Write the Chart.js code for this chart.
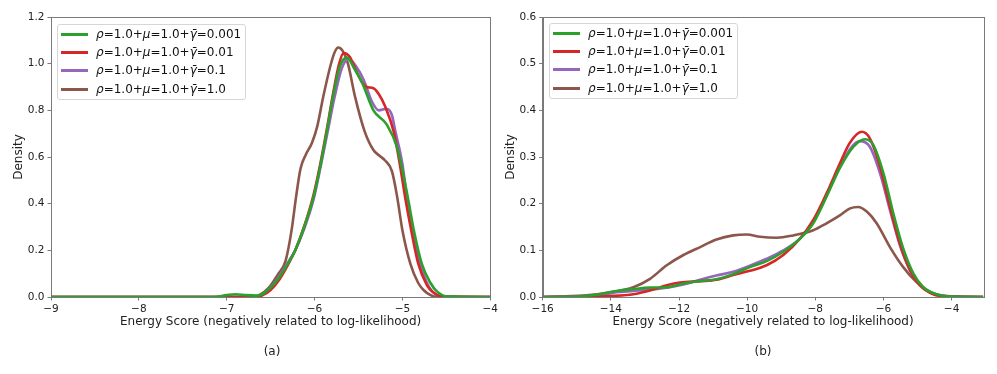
<!DOCTYPE html>
<html>
<head>
<meta charset="utf-8">
<script src="https://cdn.jsdelivr.net/npm/chart.js@4"></script>
<style>
    body { margin: 0; background: #fff; font-family: "DejaVu Sans", sans-serif; }
    #wrap { position: relative; width: 997px; height: 374px; }
    .panel { position: absolute; top: 0; height: 374px; }
    .caption { position: absolute; top: 344px; font-size: 12px; color: #222; transform: translateX(-50%); }
    .legend { position: absolute; width: 187px; height: 74px; border: 1px solid #d6d6d6; border-radius: 3px; background: rgba(255,255,255,0.85); }
    .row { position: absolute; left: 0; height: 18px; width: 100%; }
    .row .ln { position: absolute; left: 3px; width: 27px; height: 3px; top: 8px; }
    .row .tx { position: absolute; left: 38px; top: 0; font-size: 12px; line-height: 18px; color: #111; white-space: nowrap; }
</style>
</head>
<body>
<div id="wrap">
    <div class="panel" style="left:0;width:500px"><canvas id="chartA" width="500" height="374"></canvas></div>
    <div class="panel" style="left:500px;width:497px"><canvas id="chartB" width="497" height="374"></canvas></div>
    <div class="legend" id="legendA" style="left:57px;top:24px"></div>
    <div class="legend" id="legendB" style="left:549px;top:23px"></div>
    <div class="caption" style="left:272px">(a)</div>
    <div class="caption" style="left:763px">(b)</div>
</div>
<script>
"use strict"

// 범례 / 시리즈 이름
var seriesNames = ['0.001', '0.01', '0.1', '1.0'];
var seriesColors = ['#2ca02c', '#d62728', '#9467bd', '#8c564b'];

// (a) 축 눈금
var ticksAX = [-9, -8, -7, -6, -5, -4];
var ticksAY = [0, 0.2, 0.4, 0.6, 0.8, 1.0, 1.2];
// (b) 축 눈금
var ticksBX = [-16, -14, -12, -10, -8, -6, -4];
var ticksBY = [0, 0.1, 0.2, 0.3, 0.4, 0.5, 0.6];

// (a) gamma=0.001
var aX1 = [-9, -7.15, -7.0, -6.9, -6.78, -6.66, -6.58, -6.5, -6.4, -6.3, -6.22, -6.12, -6.01, -5.93, -5.86, -5.79, -5.71, -5.63, -5.55, -5.46, -5.33, -5.18, -5.06, -4.94, -4.87, -4.78, -4.68, -4.61, -4.5, -4];
var aY1 = [0, 0, 0.008, 0.012, 0.008, 0.006, 0.015, 0.04, 0.085, 0.145, 0.2, 0.3, 0.43, 0.57, 0.71, 0.86, 0.99, 1.026, 0.98, 0.92, 0.8, 0.74, 0.64, 0.43, 0.286, 0.143, 0.06, 0.025, 0.003, 0];
// (a) gamma=0.01
var aX2 = [-9, -6.7, -6.6, -6.5, -6.4, -6.3, -6.22, -6.12, -6.01, -5.93, -5.86, -5.79, -5.72, -5.67, -5.6, -5.54, -5.46, -5.41, -5.33, -5.27, -5.2, -5.1, -5.03, -4.97, -4.9, -4.82, -4.72, -4.65, -4.56, -4];
var aY2 = [0, 0, 0.006, 0.03, 0.075, 0.14, 0.2, 0.3, 0.44, 0.58, 0.72, 0.87, 1.0, 1.046, 1.03, 0.98, 0.92, 0.9, 0.895, 0.87, 0.82, 0.71, 0.57, 0.43, 0.286, 0.143, 0.05, 0.02, 0.003, 0];
// (a) gamma=0.1
var aX3 = [-9, -6.68, -6.6, -6.5, -6.4, -6.3, -6.22, -6.12, -6.01, -5.93, -5.85, -5.77, -5.69, -5.61, -5.53, -5.44, -5.35, -5.27, -5.18, -5.12, -5.08, -5.0, -4.95, -4.89, -4.8, -4.7, -4.63, -4.53, -4];
var aY3 = [0, 0, 0.008, 0.04, 0.09, 0.15, 0.2, 0.29, 0.42, 0.56, 0.71, 0.86, 0.98, 1.02, 0.99, 0.93, 0.84, 0.8, 0.807, 0.78, 0.71, 0.57, 0.43, 0.286, 0.143, 0.045, 0.014, 0.002, 0];
// (a) gamma=1.0
var aX4 = [-9, -6.72, -6.62, -6.52, -6.42, -6.33, -6.26, -6.21, -6.16, -6.1, -6.03, -5.97, -5.9, -5.82, -5.77, -5.73, -5.68, -5.62, -5.54, -5.43, -5.33, -5.26, -5.2, -5.12, -5.06, -5.0, -4.91, -4.82, -4.76, -4.68, -4.6, -4];
var aY4 = [0, 0, 0.01, 0.04, 0.095, 0.155, 0.29, 0.43, 0.55, 0.61, 0.66, 0.73, 0.86, 0.99, 1.05, 1.069, 1.055, 1.0, 0.86, 0.71, 0.63, 0.605, 0.586, 0.54, 0.43, 0.286, 0.143, 0.06, 0.03, 0.008, 0, 0];

// (b) gamma=0.001
var bX1 = [-16, -15, -14.32, -13.83, -13.34, -12.85, -12.36, -11.87, -11.38, -10.9, -10.41, -9.92, -9.43, -8.94, -8.45, -8.06, -7.67, -7.28, -6.88, -6.54, -6.3, -6.0, -5.71, -5.42, -5.12, -4.83, -4.44, -4.0, -3.07];
var bY1 = [0, 0.001, 0.006, 0.013, 0.017, 0.02, 0.021, 0.029, 0.034, 0.038, 0.049, 0.064, 0.077, 0.097, 0.125, 0.158, 0.215, 0.276, 0.322, 0.338, 0.326, 0.265, 0.179, 0.104, 0.05, 0.021, 0.006, 0.001, 0];
// (b) gamma=0.01
var bX2 = [-16, -15, -14.02, -13.34, -12.85, -12.36, -11.97, -11.38, -10.9, -10.41, -9.92, -9.43, -8.94, -8.45, -8.06, -7.67, -7.28, -6.98, -6.64, -6.4, -6.1, -5.81, -5.52, -5.22, -4.93, -4.54, -4.05, -3.07];
var bY2 = [0, 0, 0.002, 0.006, 0.014, 0.025, 0.031, 0.034, 0.037, 0.047, 0.056, 0.068, 0.09, 0.125, 0.165, 0.222, 0.286, 0.331, 0.354, 0.34, 0.279, 0.193, 0.115, 0.057, 0.025, 0.006, 0.001, 0];
// (b) gamma=0.1
var bX3 = [-16, -15, -14.32, -13.83, -13.34, -12.85, -12.36, -11.87, -11.38, -10.9, -10.41, -9.92, -9.43, -8.94, -8.45, -8.06, -7.67, -7.28, -6.93, -6.69, -6.4, -6.1, -5.81, -5.52, -5.22, -4.93, -4.54, -4.0, -3.07];
var bY3 = [0, 0.001, 0.004, 0.01, 0.013, 0.016, 0.02, 0.027, 0.037, 0.046, 0.054, 0.067, 0.082, 0.1, 0.125, 0.161, 0.218, 0.279, 0.322, 0.334, 0.322, 0.265, 0.186, 0.111, 0.057, 0.027, 0.007, 0.001, 0];
// (b) gamma=1.0
var bX4 = [-16, -14.8, -14.02, -13.34, -12.85, -12.36, -11.87, -11.38, -10.9, -10.41, -10.01, -9.62, -9.13, -8.65, -8.06, -7.67, -7.28, -6.98, -6.74, -6.49, -6.2, -5.81, -5.42, -5.03, -4.64, -4.15, -3.07];
var bY4 = [0, 0.003, 0.01, 0.021, 0.039, 0.068, 0.09, 0.107, 0.123, 0.132, 0.134, 0.129, 0.127, 0.132, 0.143, 0.158, 0.175, 0.19, 0.193, 0.183, 0.158, 0.107, 0.064, 0.032, 0.011, 0.002, 0];

var spineColor = '#7a7a7a';
var fontFamily = "'DejaVu Sans', sans-serif";

function toPoints(xs, ys) {
    var pts = [];
    for (var i = 0; i < xs.length; i++) {
        pts.push({ x: xs[i], y: ys[i] });
    }
    return pts;
}

function minusLabel(v) {
    var s = String(v);
    return s.replace('-', '\u2212');
}

// 네 변 테두리 (matplotlib spine 처럼)
var boxPlugin = {
    id: 'box',
    beforeDatasetsDraw: function (chart) {
        var a = chart.chartArea;
        var ctx = chart.ctx;
        ctx.save();
        ctx.strokeStyle = spineColor;
        ctx.lineWidth = 1;
        ctx.strokeRect(Math.round(a.left) + 0.5, Math.round(a.top) + 0.5, Math.round(a.right - a.left), Math.round(a.bottom - a.top));
        ctx.restore();
    }
};

function makeChart(canvasId, xs, ys, opt) {
    var datasets = [];
    for (var k = 0; k < xs.length; k++) {
        datasets.push({
            label: seriesNames[k],
            data: toPoints(xs[k], ys[k]),
            borderColor: seriesColors[k],
            backgroundColor: seriesColors[k],
            borderWidth: 2.6,
            pointRadius: 0,
            cubicInterpolationMode: 'monotone',
            fill: false
        });
    }

    var config = {
        type: 'line',
        data: { datasets: datasets },
        plugins: [boxPlugin],
        options: {
            responsive: false,
            animation: false,
            events: [],
            layout: {
                autoPadding: false,
                padding: { left: 0, right: opt.padRight, top: 17, bottom: 39 }
            },
            plugins: {
                legend: { display: false },
                tooltip: { enabled: false }
            },
            scales: {
                x: {
                    type: 'linear',
                    min: opt.xMin,
                    max: opt.xMax,
                    afterBuildTicks: function (scale) {
                        scale.ticks = opt.xTicks.map(function (v) { return { value: v }; });
                    },
                    afterFit: function (scale) { scale.height = 38; },
                    ticks: {
                        color: '#222',
                        padding: 2,
                        maxRotation: 0,
                        font: { family: fontFamily, size: 10.5 },
                        callback: function (v) { return minusLabel(v); }
                    },
                    grid: { display: true, drawOnChartArea: false, drawTicks: true, tickLength: 3.5, color: spineColor },
                    border: { display: true, color: spineColor },
                    title: {
                        display: true,
                        text: 'Energy Score (negatively related to log-likelihood)',
                        color: '#222',
                        font: { family: fontFamily, size: 12 },
                        padding: { top: 0, bottom: 5.5 }
                    }
                },
                y: {
                    type: 'linear',
                    min: 0,
                    max: opt.yMax,
                    afterBuildTicks: function (scale) {
                        scale.ticks = opt.yTicks.map(function (v) { return { value: v }; });
                    },
                    afterFit: function (scale) { scale.width = opt.yWidth; },
                    ticks: {
                        color: '#222',
                        padding: 3,
                        font: { family: fontFamily, size: 10.5 },
                        callback: function (v) { return Number(v).toFixed(1); }
                    },
                    grid: { display: true, drawOnChartArea: false, drawTicks: true, tickLength: 3.5, color: spineColor },
                    border: { display: true, color: spineColor },
                    title: {
                        display: true,
                        text: 'Density',
                        color: '#222',
                        font: { family: fontFamily, size: 12 },
                        padding: { top: opt.yTitlePad, bottom: 0 }
                    }
                }
            }
        }
    };

    var ctx = document.getElementById(canvasId).getContext('2d');
    return new Chart(ctx, config);
}

function buildLegend(id) {
    var box = document.getElementById(id);
    for (var k = 0; k < seriesNames.length; k++) {
        var row = document.createElement('div');
        row.className = 'row';
        row.style.top = (k * 18.2) + 'px';
        row.innerHTML = '<span class="ln" style="background:' + seriesColors[k] + '"></span>' +
            '<span class="tx"><i>ρ</i>=1.0+<i>μ</i>=1.0+<i>γ̄</i>=' + seriesNames[k] + '</span>';
        box.appendChild(row);
    }
}

makeChart('chartA', [aX1, aX2, aX3, aX4], [aY1, aY2, aY3, aY4], {
    xMin: -9, xMax: -4, xTicks: ticksAX, yMax: 1.2, yTicks: ticksAY,
    yWidth: 51, padRight: 7.3, yTitlePad: 11.8
});
makeChart('chartB', [bX1, bX2, bX3, bX4], [bY1, bY2, bY3, bY4], {
    xMin: -16, xMax: -3.07, xTicks: ticksBX, yMax: 0.6, yTicks: ticksBY,
    yWidth: 42.7, padRight: 13.7, yTitlePad: 3.3
});

buildLegend('legendA');
buildLegend('legendB');
</script>
</body>
</html>
